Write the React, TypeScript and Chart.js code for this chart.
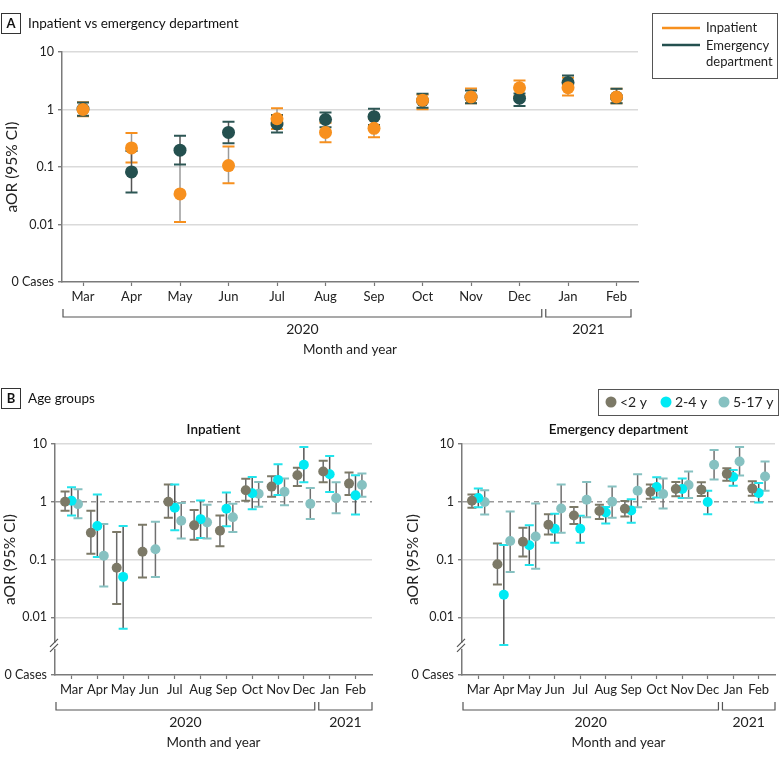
import React, { useEffect, useRef } from 'react';
import { Chart, registerables } from 'chart.js';
Chart.register(...registerables);

const FONT = 'Lato, "Noto Sans", sans-serif';

const months = ['Mar', 'Apr', 'May', 'Jun', 'Jul', 'Aug', 'Sep', 'Oct', 'Nov', 'Dec', 'Jan', 'Feb'];
const yTickValues = [0.001, 0.01, 0.1, 1, 10];
const yTickLabels = ['0 Cases', '0.01', '0.1', '1', '10'];
const yearLabels = ['2020', '2021'];

// Panel A: inpatient vs emergency department
const inpatientOR = [1.0, 0.215, 0.034, 0.106, 0.69, 0.40, 0.47, 1.45, 1.65, 2.38, 2.4, 1.65];
const inpatientLo = [0.76, 0.12, 0.011, 0.052, 0.46, 0.27, 0.33, 1.01, 1.29, 1.7, 1.75, 1.28];
const inpatientHi = [1.34, 0.39, 0.19, 0.227, 1.05, 0.59, 0.69, 1.8, 2.32, 3.2, 3.55, 2.3];
const edOR = [1.02, 0.082, 0.196, 0.4, 0.56, 0.67, 0.75, 1.43, 1.64, 1.57, 2.95, 1.64];
const edLo = [0.78, 0.036, 0.11, 0.26, 0.4, 0.49, 0.54, 1.07, 1.29, 1.15, 2.3, 1.29];
const edHi = [1.32, 0.19, 0.35, 0.61, 0.8, 0.89, 1.03, 1.87, 2.14, 1.9, 3.9, 2.29];

// Panel B: inpatient by age group
const inpU2OR = [1.0, 0.29, 0.072, 0.136, 1.0, 0.39, 0.316, 1.58, 1.83, 2.88, 3.33, 2.06];
const inpU2Lo = [0.70, 0.126, 0.017, 0.049, 0.53, 0.22, 0.17, 1.04, 1.22, 1.88, 2.17, 1.31];
const inpU2Hi = [1.51, 0.70, 0.30, 0.40, 1.98, 0.72, 0.58, 2.49, 2.77, 3.86, 5.12, 3.2];
const inp24OR = [1.04, 0.38, 0.05, null, 0.79, 0.50, 0.755, 1.40, 2.39, 4.36, 3.0, 1.29];
const inp24Lo = [0.58, 0.11, 0.0063, null, 0.32, 0.235, 0.376, 0.745, 1.31, 2.17, 1.47, 0.60];
const inp24Hi = [1.78, 1.34, 0.38, null, 1.98, 1.05, 1.44, 2.69, 4.48, 8.86, 6.17, 2.88];
const inp517OR = [0.91, 0.116, null, 0.15, 0.47, 0.44, 0.54, 1.38, 1.49, 0.92, 1.16, 1.95];
const inp517Lo = [0.52, 0.034, null, 0.05, 0.23, 0.23, 0.30, 0.82, 0.87, 0.505, 0.63, 1.22];
const inp517Hi = [1.64, 0.41, null, 0.45, 0.95, 0.89, 0.92, 2.2, 2.52, 1.73, 2.17, 3.08];

// Panel B: emergency department by age group
const edU2OR = [1.04, 0.083, 0.203, 0.40, 0.58, 0.69, 0.755, 1.49, 1.66, 1.62, 3.04, 1.69];
const edU2Lo = [0.79, 0.037, 0.113, 0.27, 0.41, 0.505, 0.555, 1.13, 1.24, 1.26, 2.32, 1.27];
const edU2Hi = [1.34, 0.19, 0.356, 0.61, 0.81, 0.89, 1.03, 1.98, 2.2, 2.17, 3.81, 2.26];
const ed24OR = [1.16, 0.0245, 0.176, 0.34, 0.34, 0.65, 0.706, 1.8, 1.66, 0.99, 2.69, 1.42];
const ed24Lo = [0.80, 0.0033, 0.08, 0.195, 0.195, 0.42, 0.435, 1.19, 1.16, 0.61, 1.9, 0.97];
const ed24Hi = [1.69, 0.178, 0.39, 0.62, 0.57, 0.81, 1.1, 2.66, 2.52, 1.55, 3.56, 2.12];
const ed517OR = [0.99, 0.209, 0.25, 0.765, 1.08, 1.0, 1.55, 1.36, 1.95, 4.36, 4.98, 2.73];
const ed517Lo = [0.60, 0.061, 0.069, 0.29, 0.54, 0.53, 0.80, 0.765, 1.16, 2.42, 2.84, 1.55];
const ed517Hi = [1.58, 0.68, 0.93, 1.98, 2.2, 1.83, 3.0, 2.52, 3.33, 7.85, 8.86, 4.98];

const ORANGE = '#F7901E';
const DARK = '#24504F';
const C_U2 = '#7C7967';
const C_24 = '#00EAF4';
const C_517 = '#86C1C1';

function pts(or: (number | null)[], lo: (number | null)[], hi: (number | null)[], off: number) {
  const out: any[] = [];
  or.forEach((v, i) => {
    if (v == null) return;
    out.push({ x: i + off, y: v, lo: lo[i], hi: hi[i] });
  });
  return out;
}

function series(label: string, data: any[], color: string, capColor: string, barColor: string, r: number) {
  return {
    label, data,
    backgroundColor: color, borderColor: color, borderWidth: 0,
    pointRadius: r, pointHoverRadius: r, pointStyle: 'circle',
    capColor, barColor,
  };
}

function errorBarPlugin(capHalf: number) {
  return {
    id: 'errbars',
    beforeDatasetsDraw(chart: any) {
      const ctx = chart.ctx;
      const xs = chart.scales.x;
      const ys = chart.scales.y;
      ctx.save();
      chart.data.datasets.forEach((ds: any) => {
        ds.data.forEach((p: any) => {
          const x = xs.getPixelForValue(p.x);
          const yl = ys.getPixelForValue(p.lo);
          const yh = ys.getPixelForValue(p.hi);
          ctx.strokeStyle = ds.barColor;
          ctx.lineWidth = 1.5;
          ctx.beginPath();
          ctx.moveTo(x, yl);
          ctx.lineTo(x, yh);
          ctx.stroke();
          ctx.strokeStyle = ds.capColor;
          ctx.lineWidth = 2;
          ctx.beginPath();
          ctx.moveTo(x - capHalf, yl);
          ctx.lineTo(x + capHalf, yl);
          ctx.moveTo(x - capHalf, yh);
          ctx.lineTo(x + capHalf, yh);
          ctx.stroke();
        });
      });
      ctx.restore();
    },
  };
}

function yScale(width: number, dashedOne: boolean) {
  return {
    type: 'logarithmic', min: 0.001, max: 10,
    afterBuildTicks: (s: any) => { s.ticks = yTickValues.map((v) => ({ value: v })); },
    afterFit: (s: any) => { s.width = width; },
    ticks: {
      autoSkip: false, padding: 4, color: '#222', font: { family: FONT, size: 12.5 },
      callback: (_v: any, i: number) => yTickLabels[i],
    },
    grid: {
      color: (c: any) => (c.tick && (c.tick.value === 0.001 || (dashedOne && c.tick.value === 1))) ? 'rgba(0,0,0,0)' : '#dadada',
      lineWidth: 1.5, drawTicks: true, tickLength: 4, tickColor: '#666', tickWidth: 1.2,
    },
    border: { color: '#7a7a7a', width: 1.5 },
  };
}

function xScale(height: number, min: number, max: number) {
  return {
    type: 'linear', min, max,
    afterBuildTicks: (s: any) => { s.ticks = months.map((_m, i) => ({ value: i })); },
    afterFit: (s: any) => { s.height = height; },
    ticks: {
      autoSkip: false, maxRotation: 0, minRotation: 0, padding: 3, color: '#222',
      font: { family: FONT, size: 13 },
      callback: (_v: any, i: number) => months[i],
    },
    grid: { drawOnChartArea: false, drawTicks: true, tickLength: 4, tickColor: '#777', tickWidth: 1.2 },
    border: { color: '#7a7a7a', width: 1.5 },
  };
}

function drawBrackets(ctx: any, chart: any, rightInset: number) {
  const xs = chart.scales.x;
  const ca = chart.chartArea;
  const mid = xs.getPixelForValue(9.5);
  const yb = ca.bottom + 35;
  ctx.save();
  ctx.strokeStyle = '#555';
  ctx.lineWidth = 1.2;
  const seg = (a: number, b: number) => {
    ctx.beginPath();
    ctx.moveTo(a, yb - 8);
    ctx.lineTo(a, yb);
    ctx.lineTo(b, yb);
    ctx.lineTo(b, yb - 8);
    ctx.stroke();
  };
  const l1 = ca.left + 1, r1 = mid - 2, l2 = mid + 2, r2 = ca.right - rightInset;
  seg(l1, r1);
  seg(l2, r2);
  ctx.fillStyle = '#222';
  ctx.font = `14px ${FONT}`;
  ctx.textAlign = 'center';
  ctx.textBaseline = 'middle';
  ctx.fillText(yearLabels[0], (l1 + r1) / 2, ca.bottom + 47);
  ctx.fillText(yearLabels[1], (l2 + r2) / 2, ca.bottom + 47);
  ctx.font = `13.5px ${FONT}`;
  ctx.fillText('Month and year', (ca.left + ca.right) / 2, ca.bottom + 68);
  ctx.restore();
}

function drawYTitle(ctx: any, x: number, yc: number) {
  ctx.save();
  ctx.translate(x, yc);
  ctx.rotate(-Math.PI / 2);
  ctx.fillStyle = '#222';
  ctx.font = `15.5px ${FONT}`;
  ctx.textAlign = 'center';
  ctx.textBaseline = 'middle';
  ctx.fillText('aOR (95% CI)', 0, 0);
  ctx.restore();
}

function drawPanelTag(ctx: any, letter: string, title: string, top: number) {
  ctx.save();
  ctx.strokeStyle = '#333';
  ctx.lineWidth = 1;
  ctx.strokeRect(1.5, top + 0.5, 19, 20);
  ctx.fillStyle = '#111';
  ctx.font = `bold 13px ${FONT}`;
  ctx.textAlign = 'center';
  ctx.textBaseline = 'middle';
  ctx.fillText(letter, 11, top + 11);
  ctx.font = `13.5px ${FONT}`;
  ctx.textAlign = 'left';
  ctx.fillText(title, 28, top + 10.5);
  ctx.restore();
}

function drawChartTitle(ctx: any, chart: any, text: string, y: number) {
  const ca = chart.chartArea;
  ctx.save();
  ctx.fillStyle = '#111';
  ctx.font = `600 13.5px ${FONT}`;
  ctx.textAlign = 'center';
  ctx.textBaseline = 'middle';
  ctx.fillText(text, (ca.left + ca.right) / 2, y);
  ctx.restore();
}

function drawBreak(ctx: any, chart: any) {
  const ca = chart.chartArea;
  const y = chart.scales.y.getPixelForValue(0.0032);
  const x = ca.left;
  ctx.save();
  ctx.fillStyle = '#fff';
  ctx.fillRect(x - 2, y - 3, 4, 6);
  ctx.strokeStyle = '#555';
  ctx.lineWidth = 1.2;
  ctx.beginPath();
  ctx.moveTo(x - 5, y + 1);
  ctx.lineTo(x + 3, y - 7);
  ctx.moveTo(x - 5, y + 6);
  ctx.lineTo(x + 3, y - 2);
  ctx.stroke();
  ctx.restore();
}

function dashedOnePlugin() {
  return {
    id: 'dashedOne',
    beforeDatasetsDraw(chart: any) {
      const ctx = chart.ctx;
      const ca = chart.chartArea;
      const y = chart.scales.y.getPixelForValue(1);
      ctx.save();
      ctx.strokeStyle = '#9a9a9a';
      ctx.lineWidth = 1.5;
      ctx.setLineDash([5, 4]);
      ctx.beginPath();
      ctx.moveTo(ca.left, y);
      ctx.lineTo(ca.right, y);
      ctx.stroke();
      ctx.restore();
    },
  };
}

function baseOptions(yWidth: number, xHeight: number, xmin: number, xmax: number, padding: any, dashedOne: boolean) {
  return {
    responsive: false,
    animation: false,
    events: [],
    layout: { padding },
    plugins: { legend: { display: false }, tooltip: { enabled: false } },
    scales: {
      x: xScale(xHeight, xmin, xmax),
      y: yScale(yWidth, dashedOne),
    },
  };
}

function configA(): any {
  return {
    type: 'scatter',
    data: {
      datasets: [
        series('Inpatient', pts(inpatientOR, inpatientLo, inpatientHi, 0), ORANGE, ORANGE, '#9a9a9a', 6.5),
        series('Emergency department', pts(edOR, edLo, edHi, 0), DARK, '#2C5654', '#555', 6.5),
      ],
    },
    options: baseOptions(62, 88, -0.433, 11.443, { left: 0, top: 52, right: 142, bottom: 0 }, false),
    plugins: [
      errorBarPlugin(6),
      {
        id: 'decorA',
        afterDraw(chart: any) {
          const ctx = chart.ctx;
          const ca = chart.chartArea;
          drawPanelTag(ctx, 'A', 'Inpatient vs emergency department', 13);
          drawYTitle(ctx, 12, (ca.top + ca.bottom) / 2);
          drawBrackets(ctx, chart, 7);
          // legend
          ctx.save();
          ctx.strokeStyle = '#555';
          ctx.lineWidth = 1;
          ctx.strokeRect(652.5, 13.5, 125, 65);
          ctx.lineWidth = 2.5;
          ctx.strokeStyle = ORANGE;
          ctx.beginPath(); ctx.moveTo(662, 28); ctx.lineTo(700, 28); ctx.stroke();
          ctx.strokeStyle = DARK;
          ctx.beginPath(); ctx.moveTo(662, 45); ctx.lineTo(700, 45); ctx.stroke();
          ctx.fillStyle = '#222';
          ctx.font = `13px ${FONT}`;
          ctx.textAlign = 'left';
          ctx.textBaseline = 'middle';
          ctx.fillText('Inpatient', 706, 28);
          ctx.fillText('Emergency', 706, 46);
          ctx.fillText('department', 706, 62);
          ctx.restore();
        },
      },
    ],
  };
}

function ageDatasets(u2: any[], a24: any[], a517: any[]) {
  return [
    series('<2 y', u2, C_U2, C_U2, '#6a6a6a', 5),
    series('2-4 y', a24, C_24, '#22E4EC', '#555', 5),
    series('5-17 y', a517, C_517, C_517, '#707070', 5),
  ];
}

function configBLeft(): any {
  return {
    type: 'scatter',
    data: {
      datasets: ageDatasets(
        pts(inpU2OR, inpU2Lo, inpU2Hi, -0.25),
        pts(inp24OR, inp24Lo, inp24Hi, 0),
        pts(inp517OR, inp517Lo, inp517Hi, 0.25),
      ),
    },
    options: baseOptions(55, 87, -0.64, 11.64, { left: 0, top: 64, right: 13, bottom: 0 }, true),
    plugins: [
      dashedOnePlugin(),
      errorBarPlugin(4.5),
      {
        id: 'decorBL',
        afterDraw(chart: any) {
          const ctx = chart.ctx;
          const ca = chart.chartArea;
          drawPanelTag(ctx, 'B', 'Age groups', 8);
          drawChartTitle(ctx, chart, 'Inpatient', 50);
          drawYTitle(ctx, 10, (ca.top + ca.bottom) / 2);
          drawBreak(ctx, chart);
          drawBrackets(ctx, chart, 0);
        },
      },
    ],
  };
}

function configBRight(): any {
  return {
    type: 'scatter',
    data: {
      datasets: ageDatasets(
        pts(edU2OR, edU2Lo, edU2Hi, -0.25),
        pts(ed24OR, ed24Lo, ed24Hi, 0),
        pts(ed517OR, ed517Lo, ed517Hi, 0.25),
      ),
    },
    options: baseOptions(77, 87, -0.64, 11.64, { left: 0, top: 64, right: 2, bottom: 0 }, true),
    plugins: [
      dashedOnePlugin(),
      errorBarPlugin(4.5),
      {
        id: 'decorBR',
        afterDraw(chart: any) {
          const ctx = chart.ctx;
          const ca = chart.chartArea;
          drawChartTitle(ctx, chart, 'Emergency department', 50);
          drawYTitle(ctx, 28, (ca.top + ca.bottom) / 2);
          drawBreak(ctx, chart);
          drawBrackets(ctx, chart, 0);
          // legend
          ctx.save();
          ctx.strokeStyle = '#555';
          ctx.lineWidth = 1;
          ctx.strokeRect(213.5, 9.5, 180, 26);
          const items: [string, string, number][] = [['<2 y', C_U2, 226], ['2-4 y', C_24, 281], ['5-17 y', C_517, 339]];
          ctx.font = `14px ${FONT}`;
          ctx.textAlign = 'left';
          ctx.textBaseline = 'middle';
          items.forEach(([t, c, x]) => {
            ctx.fillStyle = c;
            ctx.beginPath();
            ctx.arc(x, 22, 5.5, 0, Math.PI * 2);
            ctx.fill();
            ctx.fillStyle = '#222';
            ctx.fillText(t, x + 9, 22);
          });
          ctx.restore();
        },
      },
    ],
  };
}

function ChartCanvas(props: { left: number; top: number; width: number; height: number; make: () => any }) {
  const ref = useRef<HTMLCanvasElement | null>(null);
  useEffect(() => {
    const chart = new Chart(ref.current as HTMLCanvasElement, props.make());
    return () => chart.destroy();
  }, []);
  return (
    <canvas
      ref={ref}
      width={props.width}
      height={props.height}
      style={{ position: 'absolute', left: props.left, top: props.top, width: props.width, height: props.height }}
    />
  );
}

export default function App() {
  return (
    <div style={{ position: 'absolute', left: 0, top: 0, width: 780, height: 762, background: '#fff' }}>
      <ChartCanvas left={0} top={0} width={780} height={370} make={configA} />
      <ChartCanvas left={0} top={380} width={385} height={382} make={configBLeft} />
      <ChartCanvas left={385} top={380} width={395} height={382} make={configBRight} />
    </div>
  );
}
